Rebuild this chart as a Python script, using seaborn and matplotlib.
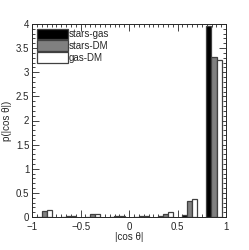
import matplotlib
matplotlib.use("Agg")
import matplotlib.pyplot as plt
from matplotlib.ticker import MultipleLocator
import seaborn as sns
import pandas as pd

# bins of |cos theta|, width 0.25
bin_centers = [-0.875, -0.625, -0.375, -0.125, 0.125, 0.375, 0.625, 0.875]
stars_gas = [0.01, 0.01, 0.01, 0.01, 0.01, 0.02, 0.05, 3.96]
stars_dm = [0.12, 0.02, 0.06, 0.03, 0.03, 0.07, 0.33, 3.31]
gas_dm = [0.15, 0.02, 0.06, 0.02, 0.02, 0.10, 0.38, 3.25]
labels = ["stars-gas", "stars-DM", "gas-DM"]

rows = []
for lab, vals in zip(labels, [stars_gas, stars_dm, gas_dm]):
    for c, v in zip(bin_centers, vals):
        rows.append({"cos": c, "p": v, "pair": lab})
df = pd.DataFrame(rows)

sns.set_style("ticks")
plt.rcParams["font.family"] = ["Liberation Sans", "DejaVu Sans"]

fig = plt.figure(figsize=(2.49, 2.50), dpi=100)
ax = fig.add_axes([0.129, 0.132, 0.779, 0.772])

sns.barplot(data=df, x="cos", y="p", hue="pair", native_scale=True,
            width=0.64, palette=["black", "#808080", "white"],
            edgecolor="#404040", linewidth=0.9, ax=ax, errorbar=None)

ax.set_xlim(-1, 1)
ax.set_ylim(0, 4)
ax.set_xticks([-1, -0.5, 0, 0.5, 1])
ax.set_xticklabels(["−1", "−0.5", "0", "0.5", "1"])
ax.set_yticks([0, 0.5, 1, 1.5, 2, 2.5, 3, 3.5, 4])
ax.set_yticklabels(["0", "0.5", "1", "1.5", "2", "2.5", "3", "3.5", "4"])
ax.xaxis.set_minor_locator(MultipleLocator(0.05))
ax.yaxis.set_minor_locator(MultipleLocator(0.1))
ax.tick_params(which="both", direction="in", top=True, right=True,
               labelsize=7, width=0.6)
ax.tick_params(axis="x", pad=3.5)
ax.tick_params(axis="y", pad=2)
ax.tick_params(which="major", length=5)
ax.tick_params(which="minor", length=2.5)
for s in ax.spines.values():
    s.set_linewidth(0.7)

ax.set_xlabel("|cos θ|", fontsize=7, labelpad=0)
ax.set_ylabel("p(|cos θ|)", fontsize=7, labelpad=3)

ax.legend(loc="upper left", frameon=False, fontsize=7, handlelength=3.2,
          handleheight=1.3, handletextpad=0.1, labelspacing=0.1,
          borderaxespad=0.3, borderpad=0.2, title=None)

fig.savefig("out.png", dpi=100)
